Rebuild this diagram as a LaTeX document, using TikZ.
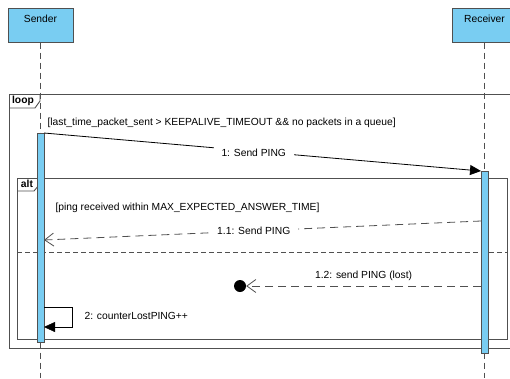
\documentclass[tikz,border=0pt]{standalone}
\usepackage{fontspec}
\setmainfont{Liberation Sans}
\definecolor{lifeblue}{HTML}{79CDF2}
\definecolor{framegray}{HTML}{505050}
\usetikzlibrary{arrows.meta, positioning, calc}

\begin{document}
\begin{tikzpicture}[x=1pt, y=-1pt,
      every node/.style={font=\fontsize{10.3}{12}\selectfont, text=black},
      head/.style={draw=framegray, fill=lifeblue, minimum width=65pt, minimum height=34pt, inner sep=0pt},
      act/.style={draw=framegray, fill=lifeblue, minimum width=7pt, inner sep=0pt},
      life/.style={framegray, thick, dash pattern=on 6pt off 4pt},
      frm/.style={framegray, line width=0.9pt},
      tag/.style={font=\fontsize{10.3}{12}\selectfont\bfseries, inner sep=1pt},
      sync/.style={-{Triangle[length=11pt, width=10pt]}, thick},
      reply/.style={-{Straight Barb[length=9pt, width=13pt]}, framegray, thick, dash pattern=on 8pt off 5pt},
      lost/.style={circle, fill=black, minimum size=12pt, inner sep=0pt}
   ]
      \useasboundingbox[fill=white] (0,0) rectangle (510,378);
      % lifeline heads
      \node[head, label={[anchor=north, yshift=-3pt]north:Sender}] (sender) at (40.5,25.5) {};
      \node[head, label={[anchor=north, yshift=-3pt]north:Receiver}] (receiver) at (484.5,25.5) {};
      \coordinate (sendend) at (40.5,378);
      \coordinate (recvend) at (484.5,378);
      \draw[life] (sender) -- (sendend);
      \draw[life] (receiver) -- (recvend);
      % loop and alt frames
      \draw[frm] (9,94) rectangle (520,348);
      \draw[frm] (9,108) -- (35,108) -- (40,101) -- (40,94);
      \node[tag] (looptag) at (23,101) {loop};
      \draw[frm] (17,178) rectangle (507,339);
      \draw[frm] (17,191) -- (34,191) -- (39,185) -- (39,178);
      \node[tag] (alttag) at (27,184) {alt};
      \draw[framegray, thick, dash pattern=on 5pt off 3pt] (17,252) -- (507,252);
      \node[anchor=west] (guardloop) at (44,123) {[last\_time\_packet\_sent > KEEPALIVE\_TIMEOUT \&\& no packets in a queue]};
      \node[anchor=west] (guardalt) at (52,208) {[ping received within MAX\_EXPECTED\_ANSWER\_TIME]};
      % activations
      \node[act, minimum height=209pt] (sact) at (40.5,237.5) {};
      \node[act, minimum height=182pt] (ract) at (484.5,262) {};
      % messages
      \coordinate (m1a) at (44,133);
      \coordinate (m1b) at (481,171);
      \draw[sync] (m1a) -- node[pos=0.48, fill=white, inner xsep=8pt, yshift=-2pt] {1: Send PING} (m1b);
      \coordinate (m2a) at (481,221);
      \coordinate (m2b) at (44,240);
      \draw[reply] (m2a) -- node[pos=0.52, fill=white, inner xsep=8pt] {1.1: Send PING} (m2b);
      \coordinate (m3a) at (481,286);
      \node[lost] (gone) at (240,286) {};
      \draw[reply] (m3a) -- node[above=2pt] {1.2: send PING (lost)} (gone);
      \coordinate (m4a) at (44,307);
      \coordinate (m4b) at (72,307);
      \coordinate (m4c) at (72,327);
      \coordinate (m4d) at (44,327);
      \draw[sync, thin] (m4a) -- (m4b) -- (m4c) -- (m4d);
      \node[anchor=west] (selflbl) at (81,316) {2: counterLostPING++};
   \end{tikzpicture}
\end{document}
